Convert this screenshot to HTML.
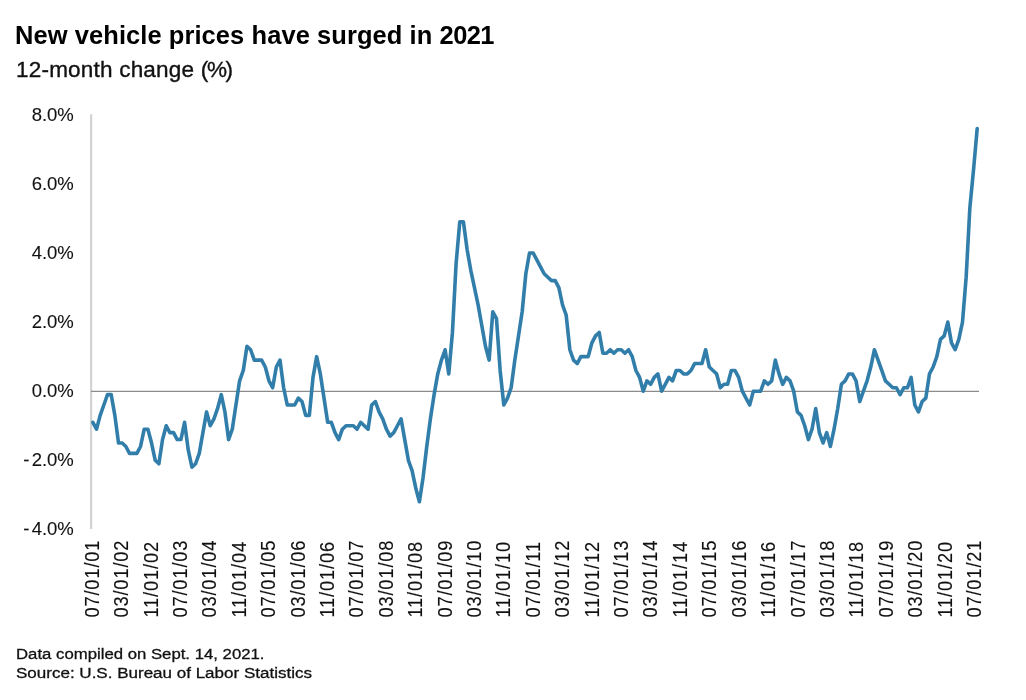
<!DOCTYPE html>
<html><head><meta charset="utf-8"><title>New vehicle prices have surged in 2021</title>
<style>
html,body{margin:0;padding:0;background:#fff;}
body{width:1026px;height:700px;position:relative;overflow:hidden;font-family:"Liberation Sans",sans-serif;color:#000;}
.title{position:absolute;left:14.7px;top:20px;font-size:25px;font-weight:bold;line-height:30px;white-space:nowrap;transform-origin:0 0;transform:scaleX(1.019);letter-spacing:0.075px;}
.sub{position:absolute;left:16.3px;top:55.5px;font-size:22px;line-height:28px;white-space:nowrap;transform-origin:0 0;transform:scaleX(1.024);letter-spacing:0.19px;-webkit-text-stroke:0.35px #111;color:#111;}
.foot{position:absolute;left:16.2px;font-size:15.5px;line-height:18px;white-space:nowrap;transform-origin:0 0;-webkit-text-stroke:0.3px #111;color:#111;}
svg{position:absolute;left:0;top:0;}
svg text{font-family:"Liberation Sans",sans-serif;fill:#111;}
.xl{font-size:18.3px;letter-spacing:0.85px;stroke:#111;stroke-width:0.12px;}
.yl{font-size:18.5px;stroke:#111;stroke-width:0.1px;}
</style></head><body>
<div class="title" id="title">New vehicle prices have surged in <span style="letter-spacing:-0.55px">2021</span></div>
<div class="sub" id="sub">12-month change <span style="letter-spacing:-1.3px">(%)</span></div>
<svg width="1026" height="700" viewBox="0 0 1026 700">
<line x1="91.1" y1="114.3" x2="91.1" y2="529" stroke="#d3d3d3" stroke-width="2.2"/>
<line x1="91" y1="391.4" x2="979" y2="391.4" stroke="#8c8c8c" stroke-width="1.2"/>
<text class="yl" x="73.8" y="120.8" text-anchor="end">8.0%</text>
<text class="yl" x="73.8" y="189.8" text-anchor="end">6.0%</text>
<text class="yl" x="73.8" y="258.8" text-anchor="end">4.0%</text>
<text class="yl" x="73.8" y="327.8" text-anchor="end">2.0%</text>
<text class="yl" x="73.8" y="396.8" text-anchor="end">0.0%</text>
<text class="yl" x="73.8" y="465.8" text-anchor="end"><tspan letter-spacing="2.3">-</tspan>2.0%</text>
<text class="yl" x="73.8" y="534.8" text-anchor="end"><tspan letter-spacing="2.3">-</tspan>4.0%</text>

<text class="xl" transform="translate(98.70,617.6) rotate(-90) scale(1,1.075)">07/01/01</text>
<text class="xl" transform="translate(128.11,617.6) rotate(-90) scale(1,1.075)">03/01/02</text>
<text class="xl" transform="translate(157.52,617.6) rotate(-90) scale(1,1.075)">11/01/02</text>
<text class="xl" transform="translate(186.93,617.6) rotate(-90) scale(1,1.075)">07/01/03</text>
<text class="xl" transform="translate(216.34,617.6) rotate(-90) scale(1,1.075)">03/01/04</text>
<text class="xl" transform="translate(245.75,617.6) rotate(-90) scale(1,1.075)">11/01/04</text>
<text class="xl" transform="translate(275.16,617.6) rotate(-90) scale(1,1.075)">07/01/05</text>
<text class="xl" transform="translate(304.57,617.6) rotate(-90) scale(1,1.075)">03/01/06</text>
<text class="xl" transform="translate(333.98,617.6) rotate(-90) scale(1,1.075)">11/01/06</text>
<text class="xl" transform="translate(363.39,617.6) rotate(-90) scale(1,1.075)">07/01/07</text>
<text class="xl" transform="translate(392.80,617.6) rotate(-90) scale(1,1.075)">03/01/08</text>
<text class="xl" transform="translate(422.21,617.6) rotate(-90) scale(1,1.075)">11/01/08</text>
<text class="xl" transform="translate(451.62,617.6) rotate(-90) scale(1,1.075)">07/01/09</text>
<text class="xl" transform="translate(481.03,617.6) rotate(-90) scale(1,1.075)">03/01/10</text>
<text class="xl" transform="translate(510.44,617.6) rotate(-90) scale(1,1.075)">11/01/10</text>
<text class="xl" transform="translate(539.85,617.6) rotate(-90) scale(1,1.075)">07/01/11</text>
<text class="xl" transform="translate(569.26,617.6) rotate(-90) scale(1,1.075)">03/01/12</text>
<text class="xl" transform="translate(598.67,617.6) rotate(-90) scale(1,1.075)">11/01/12</text>
<text class="xl" transform="translate(628.08,617.6) rotate(-90) scale(1,1.075)">07/01/13</text>
<text class="xl" transform="translate(657.49,617.6) rotate(-90) scale(1,1.075)">03/01/14</text>
<text class="xl" transform="translate(686.90,617.6) rotate(-90) scale(1,1.075)">11/01/14</text>
<text class="xl" transform="translate(716.31,617.6) rotate(-90) scale(1,1.075)">07/01/15</text>
<text class="xl" transform="translate(745.72,617.6) rotate(-90) scale(1,1.075)">03/01/16</text>
<text class="xl" transform="translate(775.13,617.6) rotate(-90) scale(1,1.075)">11/01/16</text>
<text class="xl" transform="translate(804.54,617.6) rotate(-90) scale(1,1.075)">07/01/17</text>
<text class="xl" transform="translate(833.95,617.6) rotate(-90) scale(1,1.075)">03/01/18</text>
<text class="xl" transform="translate(863.36,617.6) rotate(-90) scale(1,1.075)">11/01/18</text>
<text class="xl" transform="translate(892.77,617.6) rotate(-90) scale(1,1.075)">07/01/19</text>
<text class="xl" transform="translate(922.18,617.6) rotate(-90) scale(1,1.075)">03/01/20</text>
<text class="xl" transform="translate(951.59,617.6) rotate(-90) scale(1,1.075)">11/01/20</text>
<text class="xl" transform="translate(981.00,617.6) rotate(-90) scale(1,1.075)">07/01/21</text>

<polyline fill="none" stroke="#327eab" stroke-width="3.6" stroke-linejoin="round" stroke-linecap="round" points="92.83,422.29 96.50,429.20 100.17,415.38 103.84,405.02 107.51,394.65 111.18,394.65 114.85,415.38 118.52,443.02 122.19,443.02 125.86,446.48 129.53,453.39 133.20,453.39 136.87,453.39 140.54,446.48 144.21,429.20 147.88,429.20 151.55,443.02 155.21,460.30 158.88,463.75 162.55,439.57 166.22,425.75 169.89,432.66 173.56,432.66 177.23,439.57 180.90,439.57 184.57,422.29 188.24,449.94 191.91,467.21 195.58,463.75 199.25,453.39 202.92,432.66 206.59,411.93 210.26,425.75 213.93,418.84 217.60,408.47 221.26,394.65 224.93,411.93 228.60,439.57 232.27,429.20 235.94,405.02 239.61,380.83 243.28,370.47 246.95,346.28 250.62,349.74 254.29,360.11 257.96,360.11 261.63,360.11 265.30,367.01 268.97,380.83 272.64,387.75 276.31,367.01 279.98,360.11 283.64,387.75 287.31,405.02 290.98,405.02 294.65,405.02 298.32,398.11 301.99,401.56 305.66,415.38 309.33,415.38 313.00,377.38 316.67,356.65 320.34,373.93 324.01,398.11 327.68,422.29 331.35,422.29 335.02,432.66 338.69,439.57 342.36,429.20 346.02,425.75 349.69,425.75 353.36,425.75 357.03,429.20 360.70,422.29 364.37,425.75 368.04,429.20 371.71,405.02 375.38,401.56 379.05,411.93 382.72,418.84 386.39,429.20 390.06,436.12 393.73,432.66 397.40,425.75 401.07,418.84 404.74,439.57 408.40,460.30 412.07,470.66 415.74,487.94 419.41,501.76 423.08,477.57 426.75,446.48 430.42,418.84 434.09,394.65 437.76,373.93 441.43,360.11 445.10,349.74 448.77,373.93 452.44,332.46 456.11,263.37 459.78,221.91 463.45,221.91 467.12,249.55 470.79,270.27 474.45,287.55 478.12,304.82 481.79,325.56 485.46,346.28 489.13,360.11 492.80,311.74 496.47,318.64 500.14,370.47 503.81,405.02 507.48,398.11 511.15,387.75 514.82,360.11 518.49,335.92 522.16,311.74 525.83,273.73 529.50,253.00 533.17,253.00 536.83,259.91 540.50,266.82 544.17,273.73 547.84,277.19 551.51,280.64 555.18,280.64 558.85,287.55 562.52,304.82 566.19,315.19 569.86,349.74 573.53,360.11 577.20,363.56 580.87,356.65 584.54,356.65 588.21,356.65 591.88,342.83 595.55,335.92 599.21,332.46 602.88,353.19 606.55,353.19 610.22,349.74 613.89,353.19 617.56,349.74 621.23,349.74 624.90,353.19 628.57,349.74 632.24,356.65 635.91,370.47 639.58,377.38 643.25,391.20 646.92,380.83 650.59,384.29 654.26,377.38 657.93,373.93 661.60,391.20 665.26,384.29 668.93,377.38 672.60,380.83 676.27,370.47 679.94,370.47 683.61,373.93 687.28,373.93 690.95,370.47 694.62,363.56 698.29,363.56 701.96,363.56 705.63,349.74 709.30,367.01 712.97,370.47 716.64,373.93 720.31,387.75 723.98,384.29 727.64,384.29 731.31,370.47 734.98,370.47 738.65,377.38 742.32,391.20 745.99,398.11 749.66,405.02 753.33,391.20 757.00,391.20 760.67,391.20 764.34,380.83 768.01,384.29 771.68,380.83 775.35,360.11 779.02,373.93 782.69,384.29 786.36,377.38 790.02,380.83 793.69,391.20 797.36,411.93 801.03,415.38 804.70,425.75 808.37,439.57 812.04,429.20 815.71,408.47 819.38,432.66 823.05,443.02 826.72,432.66 830.39,446.48 834.06,429.20 837.73,408.47 841.40,384.29 845.07,380.83 848.74,373.93 852.40,373.93 856.07,380.83 859.74,401.56 863.41,391.20 867.08,380.83 870.75,367.01 874.42,349.74 878.09,360.11 881.76,370.47 885.43,380.83 889.10,384.29 892.77,387.75 896.44,387.75 900.11,394.65 903.78,387.75 907.45,387.75 911.12,377.38 914.79,405.02 918.45,411.93 922.12,401.56 925.79,398.11 929.46,373.93 933.13,367.01 936.80,356.65 940.47,339.38 944.14,335.92 947.81,322.10 951.48,342.83 955.15,349.74 958.82,339.38 962.49,322.10 966.16,277.19 969.83,208.09 973.50,170.08 977.17,128.62"/>
</svg>
<div class="foot" id="f1" style="top:644.8px;transform:scaleX(1.080)">Data compiled on Sept. 14, 2021.</div>
<div class="foot" id="f2" style="top:664px;transform:scaleX(1.0975)">Source: U.S. Bureau of Labor Statistics</div>
</body></html>
